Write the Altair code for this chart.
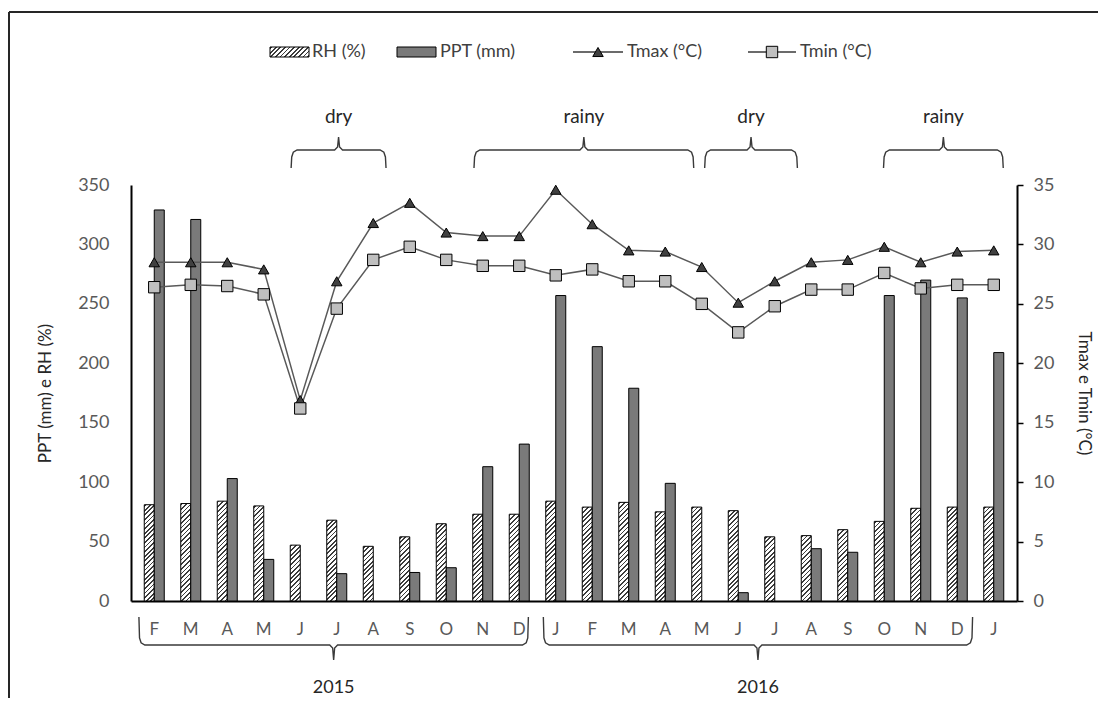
import altair as alt
import pandas as pd

# ---------------- data ----------------
months = ["F", "M", "A", "M", "J", "J", "A", "S", "O", "N", "D",
          "J", "F", "M", "A", "M", "J", "J", "A", "S", "O", "N", "D", "J"]
rh = [81, 82, 84, 80, 47, 68, 46, 54, 65, 73, 73,
      84, 79, 83, 75, 79, 76, 54, 55, 60, 67, 78, 79, 79]
ppt = [329, 321, 103, 35, 0, 23, 0, 24, 28, 113, 132,
       257, 214, 179, 99, 0, 7, 0, 44, 41, 257, 270, 255, 209]
tmax = [28.5, 28.5, 28.5, 27.9, 16.9, 26.9, 31.8, 33.5, 31.0, 30.7, 30.7,
        34.6, 31.7, 29.5, 29.4, 28.1, 25.1, 26.9, 28.5, 28.7, 29.8, 28.5, 29.4, 29.5]
tmin = [26.4, 26.6, 26.5, 25.8, 16.2, 24.6, 28.7, 29.8, 28.7, 28.2, 28.2,
        27.4, 27.9, 26.9, 26.9, 25.0, 22.6, 24.8, 26.2, 26.2, 27.6, 26.3, 26.6, 26.6]

season_labels = ["dry", "rainy", "dry", "rainy"]
season_start = [4.25, 9.26, 15.58, 20.48]   # month units
season_end = [6.85, 15.28, 18.12, 23.76]
year_labels = ["2015", "2016"]
year_start = [0.08, 11.16]
year_end = [10.75, 22.92]

# ---------------- geometry helpers ----------------
W, H = 886, 416
STEP = W / 24.0
UNIT = H / 350.0
FONT = "Lato"
BAR_W = 10


def m_of(px):
    return px / STEP


def v_of(py):
    # py: pixels from the top of the plot area
    return (H - py) / UNIT


def hatch(w, h, period=4.6, dark=1.7, K=2.0, c_dark="#3c3c3c", c_light="#ffffff"):
    T = w / (K * (w * w + h * h))
    stops = [{"offset": 0, "color": c_light}]
    s = 0.8
    last = 0
    while s < w + h:
        a = round(min(s * T, 1), 6)
        b = round(min((s + dark) * T, 1), 6)
        a = max(a, last)
        b = max(b, a)
        stops += [{"offset": a, "color": c_light}, {"offset": a, "color": c_dark},
                  {"offset": b, "color": c_dark}, {"offset": b, "color": c_light}]
        last = b
        s += period
    return {"gradient": "linear", "x1": 0, "y1": 0, "x2": K, "y2": K * h / w, "stops": stops}


n = len(months)
rh_rows = [{"x": i + 0.5, "v": rh[i], "g": hatch(BAR_W, rh[i] * UNIT)} for i in range(n)]
ppt_rows = [{"x": i + 0.5, "v": ppt[i]} for i in range(n) if ppt[i] > 0]
temp_df = pd.DataFrame({"x": [i + 0.5 for i in range(n)], "tmax": tmax, "tmin": tmin})
month_df = pd.DataFrame({"x": [i + 0.5 for i in range(n)], "lab": months, "v": v_of(H + 29)})


def brace(x0p, x1p, endp, barp, tipp, gid):
    xc = (x0p + x1p) / 2.0
    sgn = 1 if endp > barp else -1   # direction from bar towards the ends
    tdir = -sgn
    pts = [(x0p, endp), (x0p + 0.6, barp + sgn * 7), (x0p + 2.2, barp + sgn * 2.2),
           (x0p + 6, barp), (xc - 4, barp), (xc - 1, barp + tdir * 3), (xc, tipp),
           (xc + 1, barp + tdir * 3), (xc + 4, barp), (x1p - 6, barp),
           (x1p - 2.2, barp + sgn * 2.2), (x1p - 0.6, barp + sgn * 7), (x1p, endp)]
    return [{"gid": gid, "o": k, "x": m_of(px), "v": v_of(py)} for k, (px, py) in enumerate(pts)]


brace_rows = []
for i in range(len(season_labels)):
    brace_rows += brace(season_start[i] * STEP, season_end[i] * STEP, -17, -35, -48, "s%d" % i)
for i in range(len(year_labels)):
    brace_rows += brace(year_start[i] * STEP, year_end[i] * STEP, H + 16, H + 44, H + 59, "y%d" % i)
brace_df = pd.DataFrame(brace_rows)

season_df = pd.DataFrame({"x": [(a + b) / 2 for a, b in zip(season_start, season_end)],
                          "lab": season_labels, "v": v_of(-68)})
year_df = pd.DataFrame({"x": [(a + b) / 2 for a, b in zip(year_start, year_end)],
                        "lab": year_labels, "v": v_of(H + 87)})

# ---------------- encodings ----------------
xscale = alt.Scale(domain=[0, 24], nice=False, zero=False)
X = alt.X("x:Q", scale=xscale,
          axis=alt.Axis(labels=False, ticks=False, grid=False, title=None,
                        domainColor="black", domainWidth=2))
yscale = alt.Scale(domain=[0, 350], nice=False, zero=False)
Y = alt.Y("v:Q", scale=yscale,
          axis=alt.Axis(values=list(range(0, 351, 50)), ticks=False, grid=False,
                        domainColor="black", domainWidth=2, labelPadding=22,
                        labelFont=FONT, labelFontSize=18, labelColor="#595959",
                        title="PPT (mm)  e RH (%)", titleFont=FONT, titleFontSize=17,
                        titleFontWeight="normal", titleColor="#262626",
                        titleX=-86, titleY=H / 2, titleAngle=-90,
                        titleAlign="center", titleBaseline="middle"))
tscale = alt.Scale(domain=[0, 35], nice=False, zero=False)
t_axis = alt.Axis(orient="right", values=list(range(0, 36, 5)), grid=False,
                  domainColor="black", domainWidth=2, tickColor="black",
                  tickWidth=1.5, tickSize=6, labelPadding=10,
                  labelFont=FONT, labelFontSize=18, labelColor="#595959",
                  title="Tmax e Tmin (°C)", titleFont=FONT, titleFontSize=17,
                  titleFontWeight="normal", titleColor="#262626",
                  titleX=66, titleY=H / 2, titleAngle=90,
                  titleAlign="center", titleBaseline="middle")
Y_tmax = alt.Y("tmax:Q", scale=tscale, axis=t_axis)
Y_tmin = alt.Y("tmin:Q", scale=tscale, axis=t_axis)

one = alt.Data(values=[{}])

# frame (decoration)
frame_left = alt.Chart(one).mark_rule(color="#262626", strokeWidth=2).encode(
    x=alt.value(-122), y=alt.value(-173), y2=alt.value(H + 97))
frame_top = alt.Chart(one).mark_rule(color="#262626", strokeWidth=2).encode(
    x=alt.value(-122), x2=alt.value(W + 81), y=alt.value(-173))

rh_bars = alt.Chart(alt.Data(values=rh_rows)).mark_bar(
    width=BAR_W, xOffset=-BAR_W / 2, stroke="black", strokeWidth=1).encode(
    x=X, y=Y, y2=alt.datum(0),
    fill=alt.Fill("g:N", scale=None, legend=None))
ppt_bars = alt.Chart(alt.Data(values=ppt_rows)).mark_bar(
    width=BAR_W, xOffset=BAR_W / 2, fill="#7a7a7a", stroke="black", strokeWidth=1).encode(
    x=X, y=Y, y2=alt.datum(0))

braces = alt.Chart(brace_df).mark_line(color="#3a3a3a", strokeWidth=1.4).encode(
    x=X, y=Y, detail="gid:N", order="o:Q")

month_text = alt.Chart(month_df).mark_text(
    font=FONT, fontSize=17, color="#595959", baseline="middle").encode(
    x=X, y=Y, text="lab:N")
season_text = alt.Chart(season_df).mark_text(
    font=FONT, fontSize=19, color="#262626", baseline="middle").encode(
    x=X, y=Y, text="lab:N")
year_text = alt.Chart(year_df).mark_text(
    font=FONT, fontSize=18, color="#262626", baseline="middle").encode(
    x=X, y=Y, text="lab:N")

# legend (decoration)
LY = -133
leg = []
leg.append(alt.Chart(one).mark_rect(stroke="black", strokeWidth=1).encode(
    x=alt.value(139), x2=alt.value(178), y=alt.value(LY - 5), y2=alt.value(LY + 5),
    fill=alt.value(hatch(39, 10, period=4.6))))
leg.append(alt.Chart(one).mark_rect(fill="#7a7a7a", stroke="black", strokeWidth=1).encode(
    x=alt.value(266), x2=alt.value(305), y=alt.value(LY - 5), y2=alt.value(LY + 5)))
leg.append(alt.Chart(one).mark_rule(color="#3a3a3a", strokeWidth=1.5).encode(
    x=alt.value(442), x2=alt.value(492), y=alt.value(LY)))
leg.append(alt.Chart(one).mark_point(shape="triangle-up", filled=True, fill="#404040",
                                      stroke="black", strokeWidth=1, size=110, opacity=1).encode(
    x=alt.value(467), y=alt.value(LY)))
leg.append(alt.Chart(one).mark_rule(color="#3a3a3a", strokeWidth=1.5).encode(
    x=alt.value(617), x2=alt.value(665), y=alt.value(LY)))
leg.append(alt.Chart(one).mark_point(shape="square", filled=True, fill="#bfbfbf",
                                      stroke="black", strokeWidth=1, size=130, opacity=1).encode(
    x=alt.value(641), y=alt.value(LY)))
for tx, lab in [(181, "RH (%)"), (309, "PPT (mm)"), (496, "Tmax (°C)"), (669, "Tmin (°C)")]:
    leg.append(alt.Chart(one).mark_text(font=FONT, fontSize=18, color="#404040",
                                         align="left", baseline="middle").encode(
        x=alt.value(tx), y=alt.value(LY), text=alt.value(lab)))

left = alt.layer(rh_bars, ppt_bars, braces, month_text, season_text, year_text,
                 frame_left, frame_top, *leg)

tbase = alt.Chart(temp_df)
tmax_line = tbase.mark_line(color="#595959", strokeWidth=1.5).encode(x=X, y=Y_tmax)
tmax_pts = tbase.mark_point(shape="triangle-up", filled=True, fill="#404040", stroke="black",
                            strokeWidth=1, size=110, opacity=1).encode(x=X, y=Y_tmax)
tmin_line = tbase.mark_line(color="#595959", strokeWidth=1.5).encode(x=X, y=Y_tmin)
tmin_pts = tbase.mark_point(shape="square", filled=True, fill="#bfbfbf", stroke="black",
                            strokeWidth=1, size=130, opacity=1).encode(x=X, y=Y_tmin)
right = alt.layer(tmax_line, tmin_line, tmax_pts, tmin_pts)

chart = alt.layer(left, right).resolve_scale(y="independent").properties(
    width=W, height=H, autosize="none",
    padding={"left": 123, "top": 177, "right": 81, "bottom": 97},
    background="white",
).configure_view(stroke=None)

chart.save("out.html", embed_options={"renderer": "svg", "actions": False})
